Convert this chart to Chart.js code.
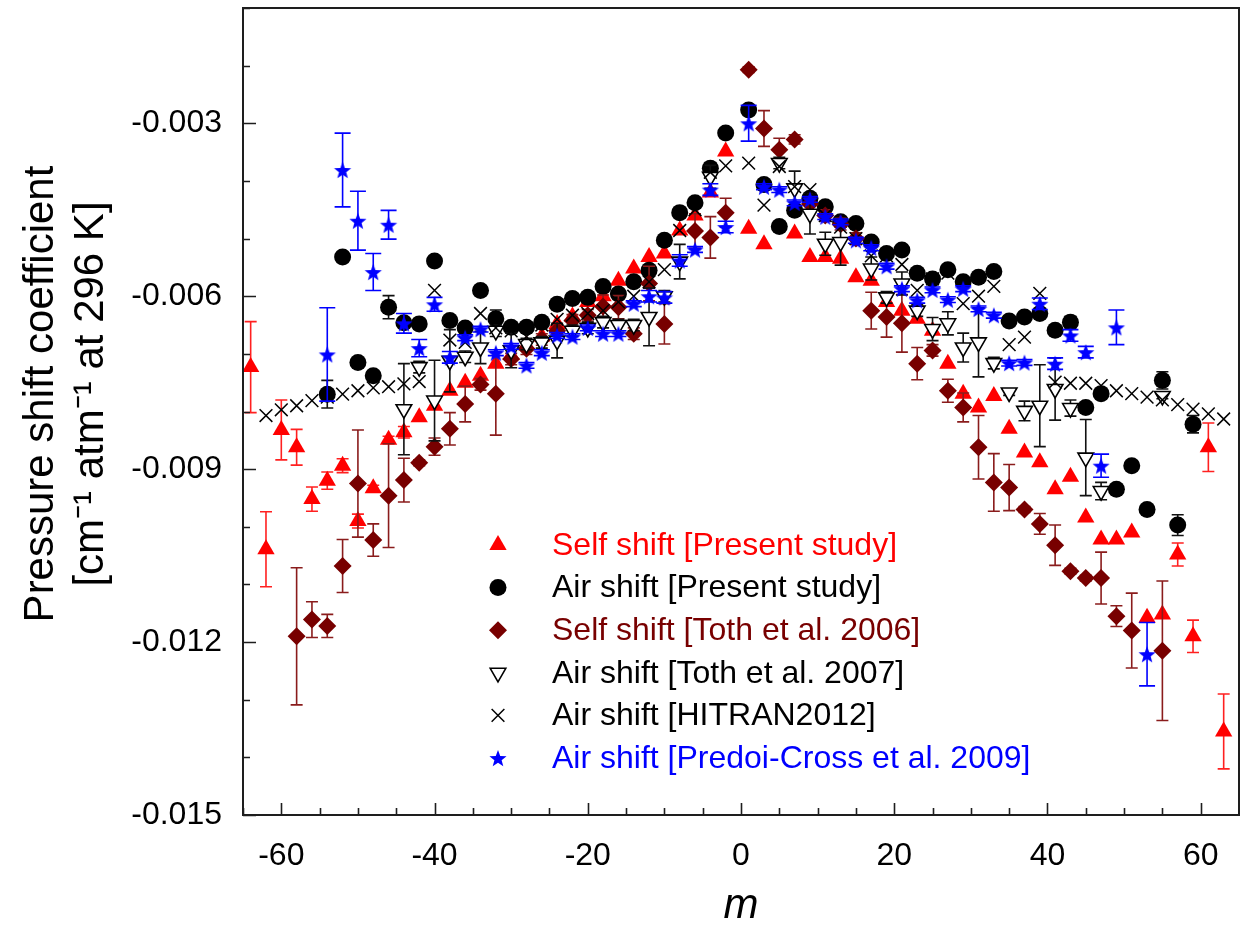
<!DOCTYPE html>
<html>
<head>
<meta charset="utf-8">
<script src="https://cdn.jsdelivr.net/npm/chart.js@4.4.0/dist/chart.umd.min.js"></script>
<style>
  html, body { margin: 0; padding: 0; background: #fff; }
</style>
</head>
<body>
<canvas id="chart" width="1240" height="946"></canvas>
<script>
// Self shift [Present study]
const selfM = [-64,-62,-60,-58,-56,-54,-52,-50,-48,-46,-44,-42,-40,-38,-36,-34,-32,-30,-28,-26,-24,-22,-20,-18,-16,-14,-12,-10,-8,-6,-4,-2,
  1,3,7,9,11,13,15,17,19,21,23,25,27,29,31,33,35,37,39,41,43,45,47,49,51,53,55,57,59,61,63];
const selfShift = [-0.00723,-0.01039,-0.00832,-0.00862,-0.00952,-0.00920,-0.00894,-0.00990,-0.00933,-0.00849,-0.00836,-0.00810,-0.00790,-0.00764,-0.00750,-0.00738,-0.00717,-0.00702,-0.00685,-0.00670,-0.00648,-0.00635,-0.00610,-0.00600,-0.00573,-0.00552,-0.00532,-0.00526,-0.00486,-0.00460,-0.00420,-0.00349,
  -0.00483,-0.00510,-0.00491,-0.00532,-0.00532,-0.00535,-0.00567,-0.00573,-0.00610,-0.00625,-0.00639,-0.00660,-0.00717,-0.00769,-0.00793,-0.00773,-0.00830,-0.00871,-0.00888,-0.00935,-0.00913,-0.00984,-0.01022,-0.01022,-0.01010,-0.01158,-0.01152,-0.01048,-0.01190,-0.00862,-0.01355];
const selfErr = [0.00079,0.00065,0.00052,0.00031,0.00021,0.00015,0.00012,0.00012,0.00005,0.00006,0.00010,0,0,0,0,0,0,0,0,0,0,0,0,0,0,0,0,0,0,0,0,0,
  0,0,0,0,0,0,0,0,0,0,0,0,0,0,0,0,0,0,0,0,0,0,0,0,0,0,0,0.00020,0.00028,0.00042,0.00065];

// Air shift [Present study]
const airM = [-54,-52,-50,-48,-46,-44,-42,-40,-38,-36,-34,-32,-30,-28,-26,-24,-22,-20,-18,-16,-14,-12,-10,-8,-6,-4,-2,
  1,3,5,7,9,11,13,15,17,19,21,23,25,27,29,31,33,35,37,39,41,43,45,47,49,51,53,55,57,59];
const airShift = [-0.00770,-0.00532,-0.00715,-0.00738,-0.00619,-0.00646,-0.00648,-0.00539,-0.00642,-0.00655,-0.00590,-0.00639,-0.00654,-0.00654,-0.00645,-0.00614,-0.00604,-0.00602,-0.00583,-0.00596,-0.00575,-0.00555,-0.00503,-0.00455,-0.00438,-0.00378,-0.00317,
  -0.00277,-0.00406,-0.00479,-0.00451,-0.00430,-0.00445,-0.00471,-0.00474,-0.00506,-0.00526,-0.00520,-0.00560,-0.00570,-0.00554,-0.00575,-0.00567,-0.00557,-0.00643,-0.00636,-0.00630,-0.00659,-0.00645,-0.00793,-0.00769,-0.00935,-0.00894,-0.00970,-0.00746,-0.00997,-0.00822];
const airErr = [0.00024,0,0,0,0.00020,0,0,0,0,0,0,0.00015,0,0,0,0,0,0,0,0,0,0,0,0,0,0.00010,0,
  0,0,0,0,0,0,0,0,0,0,0,0,0,0,0,0,0,0,0,0,0,0.00010,0,0,0,0,0,0.00015,0.00018,0.00015];

// Self shift [Toth et al. 2006]
const toth06M = [-58,-56,-54,-52,-50,-48,-46,-44,-42,-40,-38,-36,-34,-32,-30,-28,-26,-24,-22,-20,-18,-16,-14,-12,-10,-6,-4,-2,
  1,3,5,7,9,11,13,15,17,19,21,23,25,27,29,31,33,35,37,39,41,43,45,47,49,51,55];
const toth06Shift = [-0.01190,-0.01161,-0.01172,-0.01068,-0.00925,-0.01023,-0.00946,-0.00919,-0.00889,-0.00861,-0.00830,-0.00787,-0.00753,-0.00769,-0.00709,-0.00691,-0.00675,-0.00660,-0.00642,-0.00633,-0.00618,-0.00619,-0.00665,-0.00578,-0.00648,-0.00487,-0.00498,-0.00455,
  -0.00207,-0.00309,-0.00346,-0.00328,-0.00440,-0.00460,-0.00475,-0.00500,-0.00625,-0.00636,-0.00647,-0.00717,-0.00694,-0.00764,-0.00793,-0.00862,-0.00923,-0.00932,-0.00970,-0.00995,-0.01032,-0.01077,-0.01089,-0.01089,-0.01155,-0.01180,-0.01215];
const toth06Err = [0.00119,0.00031,0.00020,0.00046,0.00093,0.00028,0.00090,0.00038,0.00005,0.00015,0.00028,0.00031,0.00010,0.00072,0.00010,0.00010,0.00010,0.00010,0.00010,0.00010,0.00020,0.00020,0.00010,0.00030,0.00035,0.00030,0.00036,0.00025,
  0.00005,0.00031,0.00020,0.00008,0.00010,0.00010,0.00010,0.00010,0.00032,0.00035,0.00050,0.00028,0.00010,0.00020,0.00025,0.00055,0.00050,0.00040,0.00005,0.00018,0.00035,0.00005,0.00005,0.00045,0.00018,0.00065,0.00121];

// Air shift [Toth et al. 2007]
const toth07M = [-44,-42,-40,-38,-36,-34,-32,-30,-28,-26,-24,-22,-20,-18,-16,-14,-12,-10,-8,-4,
  5,7,9,11,13,17,19,21,23,25,27,29,31,33,35,37,39,41,43,45,47,55];
const toth07Shift = [-0.00796,-0.00723,-0.00781,-0.00712,-0.00705,-0.00689,-0.00660,-0.00694,-0.00683,-0.00680,-0.00677,-0.00660,-0.00655,-0.00645,-0.00650,-0.00650,-0.00636,-0.00600,-0.00540,-0.00393,
  -0.00369,-0.00413,-0.00457,-0.00509,-0.00506,-0.00552,-0.00602,-0.00578,-0.00625,-0.00657,-0.00647,-0.00689,-0.00680,-0.00716,-0.00767,-0.00799,-0.00790,-0.00761,-0.00794,-0.00880,-0.00938,-0.00773];
const toth07Err = [0.00079,0.00010,0.00070,0.00054,0.00010,0.00028,0.00010,0.00030,0.00010,0.00010,0.00030,0.00010,0.00010,0.00010,0.00010,0.00010,0.00050,0.00010,0.00030,0.00020,
  0.00010,0.00030,0.00035,0.00020,0.00040,0.00020,0.00010,0.00020,0.00010,0.00020,0.00020,0.00025,0.00060,0.00010,0.00005,0.00017,0.00071,0.00054,0.00014,0.00066,0.00015,0.00005];

// Air shift [HITRAN2012]
const hitranM = [-62,-60,-58,-56,-54,-52,-50,-48,-46,-44,-42,-40,-38,-36,-34,-32,-30,-28,-26,-24,-22,-20,-18,-16,-14,-12,-10,-8,-6,-4,-2,
  1,3,5,7,9,11,13,15,17,19,21,23,25,27,29,31,33,35,37,39,41,43,45,47,49,51,53,55,57,59,61,63];
const hitranShift = [-0.00807,-0.00797,-0.00790,-0.00781,-0.00775,-0.00770,-0.00764,-0.00759,-0.00757,-0.00752,-0.00748,-0.00590,-0.00676,-0.00680,-0.00630,-0.00655,-0.00660,-0.00670,-0.00650,-0.00640,-0.00633,-0.00630,-0.00625,-0.00610,-0.00600,-0.00575,-0.00554,-0.00486,-0.00450,-0.00385,-0.00374,
  -0.00369,-0.00442,-0.00375,-0.00410,-0.00415,-0.00460,-0.00480,-0.00500,-0.00530,-0.00530,-0.00545,-0.00590,-0.00570,-0.00560,-0.00613,-0.00600,-0.00583,-0.00684,-0.00671,-0.00595,-0.00749,-0.00751,-0.00751,-0.00755,-0.00764,-0.00769,-0.00775,-0.00780,-0.00788,-0.00796,-0.00804,-0.00813];

// Air shift [Predoi-Cross et al. 2009]
const predoiM = [-54,-52,-50,-48,-46,-44,-42,-40,-38,-36,-34,-32,-30,-28,-26,-24,-22,-20,-18,-16,-14,-12,-10,-8,-6,-4,-2,
  1,3,5,7,9,11,13,15,17,19,21,23,25,27,29,31,33,35,37,39,41,43,45,47,49,53];
const predoiShift = [-0.00701,-0.00381,-0.00469,-0.00558,-0.00476,-0.00647,-0.00690,-0.00614,-0.00706,-0.00672,-0.00657,-0.00698,-0.00687,-0.00720,-0.00698,-0.00668,-0.00670,-0.00655,-0.00665,-0.00665,-0.00613,-0.00600,-0.00602,-0.00538,-0.00519,-0.00415,-0.00480,
  -0.00300,-0.00410,-0.00415,-0.00438,-0.00432,-0.00462,-0.00471,-0.00503,-0.00516,-0.00548,-0.00587,-0.00607,-0.00589,-0.00606,-0.00587,-0.00622,-0.00633,-0.00716,-0.00715,-0.00613,-0.00717,-0.00668,-0.00697,-0.00894,-0.00654,-0.01221];
const predoiErr = [0.00081,0.00064,0.00051,0.00032,0.00025,0.00017,0.00015,0.00012,0.00010,0.00005,0.00005,0.00005,0.00005,0.00005,0.00005,0.00005,0.00005,0.00005,0.00005,0.00005,0.00005,0.00010,0.00010,0.00010,0.00005,0.00010,0.00010,
  0.00031,0.00005,0.00005,0.00005,0.00005,0.00005,0.00005,0.00005,0.00005,0.00005,0.00005,0.00005,0.00005,0.00005,0.00005,0.00005,0.00005,0.00005,0.00005,0.00010,0.00010,0.00010,0.00010,0.00020,0.00030,0.00055];

const RED = '#ff0000', MAROON = '#780000', BLUE = '#0000ff';

// filled five point star used as point style
function makeStar(color, rOut, rIn) {
  const c = document.createElement('canvas');
  const s = Math.ceil(rOut * 2 + 2);
  c.width = s; c.height = s;
  const g = c.getContext('2d');
  g.fillStyle = color;
  g.beginPath();
  for (let k = 0; k < 10; k++) {
    const r = k % 2 === 0 ? rOut : rIn;
    const a = -Math.PI / 2 + k * Math.PI / 5;
    g.lineTo(s / 2 + r * Math.cos(a), s / 2 + r * Math.sin(a) + 1);
  }
  g.closePath();
  g.fill();
  return c;
}
const starImg = makeStar(BLUE, 9, 3.8);

const pts = (ms, vs, es) => ms.map((m, i) => ({ x: m, y: vs[i], e: es ? es[i] : 0 }));

const series = [
  { label: 'Self shift [Present study]', data: pts(selfM, selfShift, selfErr), pointStyle: 'triangle', pointRadius: 10,
    backgroundColor: RED, borderColor: RED, borderWidth: 0, errColor: '#ff2020', text: RED, cap: 6 },
  { label: 'Air shift [Present study]', data: pts(airM, airShift, airErr), pointStyle: 'circle', pointRadius: 8.5,
    backgroundColor: '#000', borderColor: '#000', borderWidth: 0, errColor: '#111', text: '#000', cap: 6 },
  { label: 'Self shift [Toth et al. 2006]', data: pts(toth06M, toth06Shift, toth06Err), pointStyle: 'rectRot', pointRadius: 9,
    backgroundColor: MAROON, borderColor: MAROON, borderWidth: 0, errColor: '#8a1c1c', text: MAROON, cap: 6 },
  { label: 'Air shift [Toth et al. 2007]', data: pts(toth07M, toth07Shift, toth07Err), pointStyle: 'triangle', pointRotation: 180, pointRadius: 9,
    backgroundColor: '#fff', borderColor: '#000', borderWidth: 1.6, errColor: '#111', text: '#000', cap: 6 },
  { label: 'Air shift [HITRAN2012]', data: pts(hitranM, hitranShift, null), pointStyle: 'crossRot', pointRadius: 9,
    backgroundColor: '#000', borderColor: '#000', borderWidth: 1.5, errColor: '#111', text: '#000', cap: 6 },
  { label: 'Air shift [Predoi-Cross et al. 2009]', data: pts(predoiM, predoiShift, predoiErr), pointStyle: starImg, pointRadius: 9,
    backgroundColor: BLUE, borderColor: BLUE, borderWidth: 0, errColor: BLUE, text: BLUE, cap: 8 }
];

const datasets = series.map((s, i) => ({
  label: s.label,
  data: s.data,
  showLine: false,
  pointStyle: s.pointStyle,
  pointRotation: s.pointRotation || 0,
  pointRadius: s.pointRadius,
  pointBackgroundColor: s.backgroundColor,
  pointBorderColor: s.borderColor,
  pointBorderWidth: s.borderWidth,
  errColor: s.errColor,
  capHalf: s.cap,
  order: series.length - i
}));

// vertical error bars, drawn just before each dataset's markers
const errorBars = {
  id: 'errorBars',
  beforeDatasetDraw(chart, args) {
    const ds = chart.data.datasets[args.index];
    const { ctx, scales: { x, y } } = chart;
    ctx.save();
    ctx.strokeStyle = ds.errColor;
    ctx.lineWidth = 1.6;
    ctx.beginPath();
    ds.data.forEach(p => {
      if (!p.e) return;
      const px = x.getPixelForValue(p.x);
      const y1 = y.getPixelForValue(p.y + p.e);
      const y2 = y.getPixelForValue(p.y - p.e);
      ctx.moveTo(px, y1); ctx.lineTo(px, y2);
      ctx.moveTo(px - ds.capHalf, y1); ctx.lineTo(px + ds.capHalf, y1);
      ctx.moveTo(px - ds.capHalf, y2); ctx.lineTo(px + ds.capHalf, y2);
    });
    ctx.stroke();
    ctx.restore();
  }
};

// box frame and inward tick marks
const frameTicks = {
  id: 'frameTicks',
  afterDatasetsDraw(chart) {
    const { ctx, chartArea: a, scales: { x, y } } = chart;
    ctx.save();
    ctx.strokeStyle = '#1e1e1e';
    ctx.lineWidth = 2;
    ctx.strokeRect(a.left, a.top, a.right - a.left, a.bottom - a.top);
    ctx.lineWidth = 1.6;
    ctx.beginPath();
    x.ticks.forEach(t => {
      const px = Math.round(x.getPixelForValue(t.value)) + 0.5;
      const len = t.value % 20 === 0 ? 12 : 7;
      ctx.moveTo(px, a.bottom); ctx.lineTo(px, a.bottom - len);
    });
    y.ticks.forEach(t => {
      const py = Math.round(y.getPixelForValue(t.value)) + 0.5;
      const len = Math.round(t.value * 1000) % 3 === 0 ? 13 : 7;
      ctx.moveTo(a.left, py); ctx.lineTo(a.left + len, py);
    });
    ctx.stroke();
    ctx.restore();
  }
};

function drawMarker(ctx, s, x, y) {
  ctx.save();
  ctx.fillStyle = s.backgroundColor;
  ctx.strokeStyle = s.borderColor;
  ctx.lineWidth = s.borderWidth || 1;
  const r = s.pointRadius;
  ctx.beginPath();
  if (s.pointStyle === 'circle') {
    ctx.arc(x, y, r, 0, Math.PI * 2); ctx.fill();
  } else if (s.pointStyle === 'rectRot') {
    ctx.moveTo(x, y - r); ctx.lineTo(x + r, y); ctx.lineTo(x, y + r); ctx.lineTo(x - r, y); ctx.closePath(); ctx.fill();
  } else if (s.pointStyle === 'triangle') {
    const dir = s.pointRotation ? -1 : 1;
    ctx.moveTo(x, y - dir * r);
    ctx.lineTo(x + r * 0.866, y + dir * r * 0.5);
    ctx.lineTo(x - r * 0.866, y + dir * r * 0.5);
    ctx.closePath(); ctx.fill();
    if (s.borderWidth) ctx.stroke();
  } else if (s.pointStyle === 'crossRot') {
    const d = r * 0.707;
    ctx.moveTo(x - d, y - d); ctx.lineTo(x + d, y + d);
    ctx.moveTo(x + d, y - d); ctx.lineTo(x - d, y + d); ctx.stroke();
  } else {
    ctx.drawImage(s.pointStyle, x - s.pointStyle.width / 2, y - s.pointStyle.height / 2);
  }
  ctx.restore();
}

// legend inside the plot
const innerLegend = {
  id: 'innerLegend',
  afterDraw(chart, args, opts) {
    const { ctx } = chart;
    ctx.save();
    ctx.font = '32px "Liberation Sans", Arial, sans-serif';
    ctx.textBaseline = 'middle';
    ctx.textAlign = 'left';
    series.forEach((s, i) => {
      const y = opts.top + i * opts.step;
      drawMarker(ctx, s, opts.markerX, y);
      ctx.fillStyle = s.text;
      ctx.fillText(s.label, opts.textX, y + 1);
    });
    ctx.restore();
  }
};

const noPad = s => { s.paddingLeft = 0; s.paddingRight = 0; s.paddingTop = 0; s.paddingBottom = 0; };

Chart.defaults.font.family = '"Liberation Sans", Arial, sans-serif';
Chart.defaults.color = '#000';

new Chart(document.getElementById('chart'), {
  type: 'scatter',
  data: { datasets },
  options: {
    responsive: false,
    animation: false,
    layout: { autoPadding: false, padding: { top: 8, right: 1, left: 0, bottom: 0 } },
    plugins: {
      legend: { display: false },
      tooltip: { enabled: false },
      innerLegend: { markerX: 498, textX: 552, top: 545, step: 42.6 }
    },
    scales: {
      x: {
        type: 'linear',
        min: -65, max: 65,
        grid: { display: false, drawTicks: false },
        border: { display: false },
        ticks: {
          stepSize: 5, autoSkip: false, maxRotation: 0, minRotation: 0, padding: 22,
          font: { size: 32 },
          callback: v => (v % 20 === 0 ? String(v) : '')
        },
        title: { display: true, text: 'm', font: { size: 42, style: 'italic' }, padding: { top: 0, bottom: 14 } },
        afterFit: s => { s.height = 131; noPad(s); }
      },
      y: {
        type: 'linear',
        min: -0.015, max: -0.001,
        grid: { display: false, drawTicks: false },
        border: { display: false },
        ticks: {
          stepSize: 0.001, autoSkip: false, padding: 21,
          font: { size: 32 },
          callback: v => {
            const k = Math.round(v * 1000);
            return k % 3 === 0 ? (k / 1000).toFixed(3) : '';
          }
        },
        title: {
          display: true,
          text: ['   Pressure shift coefficient', '   [cm\u207B\u00B9 atm\u207B\u00B9 at 296 K]'],
          font: { size: 42 }, padding: { top: 16, bottom: 0 }
        },
        afterFit: s => { s.width = 243; noPad(s); }
      }
    }
  },
  plugins: [errorBars, frameTicks, innerLegend]
});
</script>
</body>
</html>
